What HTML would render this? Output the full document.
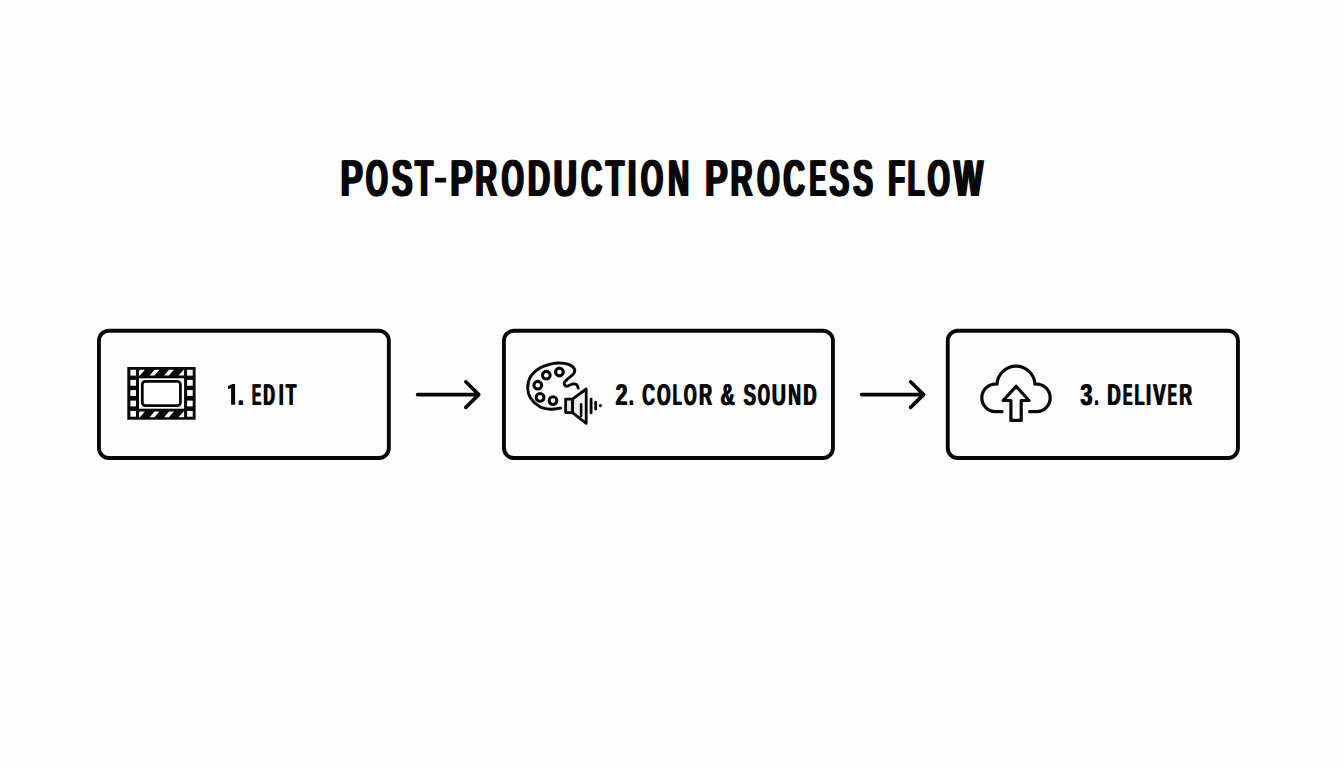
<!DOCTYPE html>
<html>
<head>
<meta charset="utf-8">
<style>
html,body{margin:0;padding:0;background:#fefefe;}
body{width:1344px;height:768px;overflow:hidden;position:relative;font-family:"Liberation Sans",sans-serif;}
svg{position:absolute;left:0;top:0;}
text{font-family:"Liberation Sans",sans-serif;font-weight:bold;text-rendering:geometricPrecision;}
</style>
</head>
<body>
<svg width="1344" height="768" viewBox="0 0 1344 768">

<g id="g0" fill="#070707"><text x="339.45" y="195.70" font-size="52.10" textLength="22.22" lengthAdjust="spacingAndGlyphs">P</text><text x="341.75" y="195.70" font-size="52.10" textLength="22.22" lengthAdjust="spacingAndGlyphs">P</text></g>
<g id="g1" fill="#070707"><text x="364.65" y="195.70" font-size="52.10" textLength="22.02" lengthAdjust="spacingAndGlyphs">O</text><text x="366.95" y="195.70" font-size="52.10" textLength="22.02" lengthAdjust="spacingAndGlyphs">O</text></g>
<g id="g2" fill="#070707"><text x="390.85" y="195.70" font-size="52.10" textLength="20.36" lengthAdjust="spacingAndGlyphs">S</text><text x="393.15" y="195.70" font-size="52.10" textLength="20.36" lengthAdjust="spacingAndGlyphs">S</text></g>
<g id="g3" fill="#070707"><text x="413.99" y="195.70" font-size="52.10" textLength="17.84" lengthAdjust="spacingAndGlyphs">T</text><text x="416.29" y="195.70" font-size="52.10" textLength="17.84" lengthAdjust="spacingAndGlyphs">T</text></g>
<rect id="g4" x="435.10" y="177.80" width="11.10" height="4.70" fill="#070707"/>
<g id="g5" fill="#070707"><text x="449.18" y="195.70" font-size="52.10" textLength="22.22" lengthAdjust="spacingAndGlyphs">P</text><text x="451.48" y="195.70" font-size="52.10" textLength="22.22" lengthAdjust="spacingAndGlyphs">P</text></g>
<g id="g6" fill="#070707"><text x="474.24" y="195.70" font-size="52.10" textLength="21.66" lengthAdjust="spacingAndGlyphs">R</text><text x="476.54" y="195.70" font-size="52.10" textLength="21.66" lengthAdjust="spacingAndGlyphs">R</text></g>
<g id="g7" fill="#070707"><text x="500.48" y="195.70" font-size="52.10" textLength="22.23" lengthAdjust="spacingAndGlyphs">O</text><text x="502.78" y="195.70" font-size="52.10" textLength="22.23" lengthAdjust="spacingAndGlyphs">O</text></g>
<g id="g8" fill="#070707"><text x="526.69" y="195.70" font-size="52.10" textLength="22.18" lengthAdjust="spacingAndGlyphs">D</text><text x="528.99" y="195.70" font-size="52.10" textLength="22.18" lengthAdjust="spacingAndGlyphs">D</text></g>
<g id="g9" fill="#070707"><text x="552.58" y="195.70" font-size="52.10" textLength="23.00" lengthAdjust="spacingAndGlyphs">U</text><text x="554.88" y="195.70" font-size="52.10" textLength="23.00" lengthAdjust="spacingAndGlyphs">U</text></g>
<g id="g10" fill="#070707"><text x="580.00" y="195.70" font-size="52.10" textLength="20.97" lengthAdjust="spacingAndGlyphs">C</text><text x="582.30" y="195.70" font-size="52.10" textLength="20.97" lengthAdjust="spacingAndGlyphs">C</text></g>
<g id="g11" fill="#070707"><text x="604.79" y="195.70" font-size="52.10" textLength="18.15" lengthAdjust="spacingAndGlyphs">T</text><text x="607.09" y="195.70" font-size="52.10" textLength="18.15" lengthAdjust="spacingAndGlyphs">T</text></g>
<g id="g12" fill="#070707"><text x="626.77" y="195.70" font-size="52.10" textLength="8.45" lengthAdjust="spacingAndGlyphs">I</text><text x="629.07" y="195.70" font-size="52.10" textLength="8.45" lengthAdjust="spacingAndGlyphs">I</text></g>
<g id="g13" fill="#070707"><text x="639.78" y="195.70" font-size="52.10" textLength="22.23" lengthAdjust="spacingAndGlyphs">O</text><text x="642.08" y="195.70" font-size="52.10" textLength="22.23" lengthAdjust="spacingAndGlyphs">O</text></g>
<g id="g14" fill="#070707"><text x="666.90" y="195.70" font-size="52.10" textLength="21.03" lengthAdjust="spacingAndGlyphs">N</text><text x="669.20" y="195.70" font-size="52.10" textLength="21.03" lengthAdjust="spacingAndGlyphs">N</text></g>
<g id="g15" fill="#070707"><text x="704.04" y="195.70" font-size="52.10" textLength="22.55" lengthAdjust="spacingAndGlyphs">P</text><text x="706.34" y="195.70" font-size="52.10" textLength="22.55" lengthAdjust="spacingAndGlyphs">P</text></g>
<g id="g16" fill="#070707"><text x="729.43" y="195.70" font-size="52.10" textLength="21.99" lengthAdjust="spacingAndGlyphs">R</text><text x="731.73" y="195.70" font-size="52.10" textLength="21.99" lengthAdjust="spacingAndGlyphs">R</text></g>
<g id="g17" fill="#070707"><text x="756.11" y="195.70" font-size="52.10" textLength="22.32" lengthAdjust="spacingAndGlyphs">O</text><text x="758.41" y="195.70" font-size="52.10" textLength="22.32" lengthAdjust="spacingAndGlyphs">O</text></g>
<g id="g18" fill="#070707"><text x="782.34" y="195.70" font-size="52.10" textLength="21.27" lengthAdjust="spacingAndGlyphs">C</text><text x="784.64" y="195.70" font-size="52.10" textLength="21.27" lengthAdjust="spacingAndGlyphs">C</text></g>
<g id="g19" fill="#070707"><text x="808.48" y="195.70" font-size="52.10" textLength="16.43" lengthAdjust="spacingAndGlyphs">E</text><text x="810.78" y="195.70" font-size="52.10" textLength="16.43" lengthAdjust="spacingAndGlyphs">E</text></g>
<g id="g20" fill="#070707"><text x="828.28" y="195.70" font-size="52.10" textLength="19.78" lengthAdjust="spacingAndGlyphs">S</text><text x="830.58" y="195.70" font-size="52.10" textLength="19.78" lengthAdjust="spacingAndGlyphs">S</text></g>
<g id="g21" fill="#070707"><text x="852.03" y="195.70" font-size="52.10" textLength="19.77" lengthAdjust="spacingAndGlyphs">S</text><text x="854.33" y="195.70" font-size="52.10" textLength="19.77" lengthAdjust="spacingAndGlyphs">S</text></g>
<g id="g22" fill="#070707"><text x="887.36" y="195.70" font-size="52.10" textLength="16.28" lengthAdjust="spacingAndGlyphs">F</text><text x="889.66" y="195.70" font-size="52.10" textLength="16.28" lengthAdjust="spacingAndGlyphs">F</text></g>
<g id="g23" fill="#070707"><text x="906.57" y="195.70" font-size="52.10" textLength="16.85" lengthAdjust="spacingAndGlyphs">L</text><text x="908.87" y="195.70" font-size="52.10" textLength="16.85" lengthAdjust="spacingAndGlyphs">L</text></g>
<g id="g24" fill="#070707"><text x="926.60" y="195.70" font-size="52.10" textLength="21.97" lengthAdjust="spacingAndGlyphs">O</text><text x="928.90" y="195.70" font-size="52.10" textLength="21.97" lengthAdjust="spacingAndGlyphs">O</text></g>
<g id="g25" fill="#070707"><text x="952.86" y="195.70" font-size="52.10" textLength="29.02" lengthAdjust="spacingAndGlyphs">W</text><text x="955.16" y="195.70" font-size="52.10" textLength="29.02" lengthAdjust="spacingAndGlyphs">W</text></g>
<polygon id="g26" points="232.40,384.00 235.10,384.00 235.10,404.75 231.10,404.75 231.10,388.20 228.00,389.00 228.00,386.10" fill="#070707"/>
<g id="g27" fill="#070707"><text x="237.27" y="404.75" font-size="30.20" textLength="5.93" lengthAdjust="spacingAndGlyphs">.</text><text x="238.42" y="404.75" font-size="30.20" textLength="5.93" lengthAdjust="spacingAndGlyphs">.</text></g>
<g id="g28" fill="#070707"><text x="251.45" y="404.75" font-size="30.20" textLength="9.25" lengthAdjust="spacingAndGlyphs">E</text><text x="252.60" y="404.75" font-size="30.20" textLength="9.25" lengthAdjust="spacingAndGlyphs">E</text></g>
<g id="g29" fill="#070707"><text x="262.84" y="404.75" font-size="30.20" textLength="11.49" lengthAdjust="spacingAndGlyphs">D</text><text x="263.99" y="404.75" font-size="30.20" textLength="11.49" lengthAdjust="spacingAndGlyphs">D</text></g>
<g id="g30" fill="#070707"><text x="278.21" y="404.75" font-size="30.20" textLength="4.97" lengthAdjust="spacingAndGlyphs">I</text><text x="279.36" y="404.75" font-size="30.20" textLength="4.97" lengthAdjust="spacingAndGlyphs">I</text></g>
<g id="g31" fill="#070707"><text x="285.17" y="404.75" font-size="30.20" textLength="10.66" lengthAdjust="spacingAndGlyphs">T</text><text x="286.32" y="404.75" font-size="30.20" textLength="10.66" lengthAdjust="spacingAndGlyphs">T</text></g>
<g id="g32" fill="#070707"><text x="614.92" y="404.75" font-size="30.20" textLength="12.02" lengthAdjust="spacingAndGlyphs">2</text><text x="616.07" y="404.75" font-size="30.20" textLength="12.02" lengthAdjust="spacingAndGlyphs">2</text></g>
<g id="g33" fill="#070707"><text x="628.56" y="404.75" font-size="30.20" textLength="4.42" lengthAdjust="spacingAndGlyphs">.</text><text x="629.71" y="404.75" font-size="30.20" textLength="4.42" lengthAdjust="spacingAndGlyphs">.</text></g>
<g id="g34" fill="#070707"><text x="641.75" y="404.75" font-size="30.20" textLength="12.49" lengthAdjust="spacingAndGlyphs">C</text><text x="642.90" y="404.75" font-size="30.20" textLength="12.49" lengthAdjust="spacingAndGlyphs">C</text></g>
<g id="g35" fill="#070707"><text x="656.51" y="404.75" font-size="30.20" textLength="13.34" lengthAdjust="spacingAndGlyphs">O</text><text x="657.66" y="404.75" font-size="30.20" textLength="13.34" lengthAdjust="spacingAndGlyphs">O</text></g>
<g id="g36" fill="#070707"><text x="672.28" y="404.75" font-size="30.20" textLength="8.74" lengthAdjust="spacingAndGlyphs">L</text><text x="673.43" y="404.75" font-size="30.20" textLength="8.74" lengthAdjust="spacingAndGlyphs">L</text></g>
<g id="g37" fill="#070707"><text x="683.28" y="404.75" font-size="30.20" textLength="12.70" lengthAdjust="spacingAndGlyphs">O</text><text x="684.43" y="404.75" font-size="30.20" textLength="12.70" lengthAdjust="spacingAndGlyphs">O</text></g>
<g id="g38" fill="#070707"><text x="698.59" y="404.75" font-size="30.20" textLength="12.90" lengthAdjust="spacingAndGlyphs">R</text><text x="699.74" y="404.75" font-size="30.20" textLength="12.90" lengthAdjust="spacingAndGlyphs">R</text></g>
<g id="g39" fill="#070707"><text x="720.07" y="404.75" font-size="30.20" textLength="14.14" lengthAdjust="spacingAndGlyphs">&amp;</text><text x="721.22" y="404.75" font-size="30.20" textLength="14.14" lengthAdjust="spacingAndGlyphs">&amp;</text></g>
<g id="g40" fill="#070707"><text x="743.07" y="404.75" font-size="30.20" textLength="12.33" lengthAdjust="spacingAndGlyphs">S</text><text x="744.22" y="404.75" font-size="30.20" textLength="12.33" lengthAdjust="spacingAndGlyphs">S</text></g>
<g id="g41" fill="#070707"><text x="757.25" y="404.75" font-size="30.20" textLength="11.92" lengthAdjust="spacingAndGlyphs">O</text><text x="758.40" y="404.75" font-size="30.20" textLength="11.92" lengthAdjust="spacingAndGlyphs">O</text></g>
<g id="g42" fill="#070707"><text x="771.17" y="404.75" font-size="30.20" textLength="14.19" lengthAdjust="spacingAndGlyphs">U</text><text x="772.32" y="404.75" font-size="30.20" textLength="14.19" lengthAdjust="spacingAndGlyphs">U</text></g>
<g id="g43" fill="#070707"><text x="787.67" y="404.75" font-size="30.20" textLength="12.73" lengthAdjust="spacingAndGlyphs">N</text><text x="788.82" y="404.75" font-size="30.20" textLength="12.73" lengthAdjust="spacingAndGlyphs">N</text></g>
<g id="g44" fill="#070707"><text x="802.79" y="404.75" font-size="30.20" textLength="13.23" lengthAdjust="spacingAndGlyphs">D</text><text x="803.94" y="404.75" font-size="30.20" textLength="13.23" lengthAdjust="spacingAndGlyphs">D</text></g>
<g id="g45" fill="#070707"><text x="1079.73" y="404.75" font-size="30.20" textLength="12.02" lengthAdjust="spacingAndGlyphs">3</text><text x="1080.88" y="404.75" font-size="30.20" textLength="12.02" lengthAdjust="spacingAndGlyphs">3</text></g>
<g id="g46" fill="#070707"><text x="1093.95" y="404.75" font-size="30.20" textLength="4.07" lengthAdjust="spacingAndGlyphs">.</text><text x="1095.10" y="404.75" font-size="30.20" textLength="4.07" lengthAdjust="spacingAndGlyphs">.</text></g>
<g id="g47" fill="#070707"><text x="1106.77" y="404.75" font-size="30.20" textLength="13.30" lengthAdjust="spacingAndGlyphs">D</text><text x="1107.92" y="404.75" font-size="30.20" textLength="13.30" lengthAdjust="spacingAndGlyphs">D</text></g>
<g id="g48" fill="#070707"><text x="1122.41" y="404.75" font-size="30.20" textLength="9.48" lengthAdjust="spacingAndGlyphs">E</text><text x="1123.56" y="404.75" font-size="30.20" textLength="9.48" lengthAdjust="spacingAndGlyphs">E</text></g>
<g id="g49" fill="#070707"><text x="1133.97" y="404.75" font-size="30.20" textLength="10.07" lengthAdjust="spacingAndGlyphs">L</text><text x="1135.12" y="404.75" font-size="30.20" textLength="10.07" lengthAdjust="spacingAndGlyphs">L</text></g>
<g id="g50" fill="#070707"><text x="1145.59" y="404.75" font-size="30.20" textLength="4.89" lengthAdjust="spacingAndGlyphs">I</text><text x="1146.74" y="404.75" font-size="30.20" textLength="4.89" lengthAdjust="spacingAndGlyphs">I</text></g>
<g id="g51" fill="#070707"><text x="1152.55" y="404.75" font-size="30.20" textLength="12.53" lengthAdjust="spacingAndGlyphs">V</text><text x="1153.70" y="404.75" font-size="30.20" textLength="12.53" lengthAdjust="spacingAndGlyphs">V</text></g>
<g id="g52" fill="#070707"><text x="1167.18" y="404.75" font-size="30.20" textLength="9.22" lengthAdjust="spacingAndGlyphs">E</text><text x="1168.33" y="404.75" font-size="30.20" textLength="9.22" lengthAdjust="spacingAndGlyphs">E</text></g>
<g id="g53" fill="#070707"><text x="1178.81" y="404.75" font-size="30.20" textLength="12.58" lengthAdjust="spacingAndGlyphs">R</text><text x="1179.96" y="404.75" font-size="30.20" textLength="12.58" lengthAdjust="spacingAndGlyphs">R</text></g>
<g fill="none" stroke="#070707" stroke-width="3.90">
<rect x="98.95" y="330.75" width="289.90" height="127.30" rx="10.00"/>
<rect x="503.95" y="330.75" width="329.00" height="127.30" rx="10.00"/>
<rect x="947.75" y="330.75" width="290.20" height="127.30" rx="10.00"/>
</g>
<g fill="none" stroke="#070707" stroke-width="3.60" stroke-linecap="round" stroke-linejoin="round">
<path d="M417.50 394.60 H478.80 M465.80 381.80 L478.80 394.60 L465.80 407.40"/>
<path d="M861.50 394.60 H923.60 M910.60 381.80 L923.60 394.60 L910.60 407.40"/>
</g>
<defs><clipPath id="fclip"><rect x="139.00" y="367.00" width="45.10" height="52.70"/></clipPath></defs>
<rect x="127.30" y="367.00" width="68.30" height="52.70" fill="#070707"/>
<rect x="130.40" y="369.80" width="5.60" height="5.80" fill="#fff"/>
<rect x="187.10" y="369.80" width="5.60" height="5.80" fill="#fff"/>
<rect x="130.40" y="379.90" width="5.60" height="5.80" fill="#fff"/>
<rect x="187.10" y="379.90" width="5.60" height="5.80" fill="#fff"/>
<rect x="130.40" y="390.10" width="5.60" height="5.80" fill="#fff"/>
<rect x="187.10" y="390.10" width="5.60" height="5.80" fill="#fff"/>
<rect x="130.40" y="400.60" width="5.60" height="5.80" fill="#fff"/>
<rect x="187.10" y="400.60" width="5.60" height="5.80" fill="#fff"/>
<rect x="130.40" y="410.90" width="5.60" height="5.80" fill="#fff"/>
<rect x="187.10" y="410.90" width="5.60" height="5.80" fill="#fff"/>
<rect x="139.00" y="378.30" width="45.10" height="30.40" fill="#fff"/>
<rect x="142.30" y="381.30" width="38.10" height="24.30" rx="3.00" fill="none" stroke="#070707" stroke-width="2.80"/>
<g clip-path="url(#fclip)" fill="#fff">
<polygon points="140.10,369.80 144.90,369.80 139.90,375.50 135.10,375.50"/>
<polygon points="154.60,369.80 159.40,369.80 154.40,375.50 149.60,375.50"/>
<polygon points="169.10,369.80 173.90,369.80 168.90,375.50 164.10,375.50"/>
<polygon points="183.60,369.80 188.40,369.80 183.40,375.50 178.60,375.50"/>
<polygon points="140.10,411.60 144.90,411.60 139.90,417.20 135.10,417.20"/>
<polygon points="154.60,411.60 159.40,411.60 154.40,417.20 149.60,417.20"/>
<polygon points="169.10,411.60 173.90,411.60 168.90,417.20 164.10,417.20"/>
<polygon points="183.60,411.60 188.40,411.60 183.40,417.20 178.60,417.20"/>
</g>
<g fill="none" stroke="#070707" stroke-linecap="round" stroke-linejoin="round">
<path d="M560.70 408.10 C559.02 408.28 554.07 409.43 550.60 409.20 C547.13 408.97 543.23 408.55 539.90 406.70 C536.57 404.85 532.63 401.20 530.60 398.10 C528.57 395.00 527.70 391.68 527.70 388.10 C527.70 384.52 528.57 379.95 530.60 376.60 C532.63 373.25 536.57 370.08 539.90 368.00 C543.23 365.92 547.38 364.93 550.60 364.10 C553.82 363.27 556.22 362.95 559.20 363.00 C562.18 363.05 565.98 363.45 568.50 364.40 C571.02 365.35 573.45 367.13 574.30 368.70 C575.15 370.27 574.68 372.12 573.60 373.80 C572.52 375.48 569.37 377.25 567.80 378.80 C566.23 380.35 564.43 381.85 564.20 383.10 C563.97 384.35 565.08 386.13 566.40 386.30 C567.72 386.47 570.43 384.40 572.10 384.10 C573.77 383.80 575.38 383.83 576.40 384.50 C577.42 385.17 577.90 387.50 578.20 388.10" stroke-width="2.90"/>
<circle cx="559.40" cy="372.00" r="3.85" stroke-width="3.10"/>
<circle cx="546.30" cy="375.20" r="3.85" stroke-width="3.10"/>
<circle cx="537.75" cy="385.20" r="3.85" stroke-width="3.10"/>
<circle cx="540.10" cy="397.40" r="3.85" stroke-width="3.10"/>
<circle cx="553.00" cy="400.60" r="3.85" stroke-width="3.10"/>
</g>
<defs><linearGradient id="cg" x1="0" x2="1" y1="0" y2="0"><stop offset="0" stop-color="#e2e2e2"/><stop offset="1" stop-color="#fbfbfb"/></linearGradient></defs>
<g stroke="#070707" stroke-width="2.80" stroke-linejoin="round" stroke-linecap="round">
<polygon points="572.40,399.10 586.20,389.00 586.20,423.40 572.40,412.60" fill="url(#cg)"/>
<rect x="565.60" y="399.10" width="6.80" height="13.50" fill="#e4e4e4"/>
<line x1="581.10" y1="404.30" x2="581.10" y2="416.00" stroke-width="2.60"/>
<line x1="591.10" y1="399.10" x2="591.10" y2="412.90" stroke-width="2.80"/>
<line x1="595.70" y1="402.10" x2="595.70" y2="409.00" stroke-width="2.80"/>
<circle cx="600.40" cy="405.60" r="1.60" fill="#070707" stroke="none"/>
</g>
<g fill="none" stroke="#070707" stroke-width="3.20" stroke-linecap="round" stroke-linejoin="round">
<path d="M1002.10 411.60 H995.60 A13.80 13.80 0 1 1 997.03 384.07 A19.00 19.00 0 0 1 1034.97 384.07 A13.80 13.80 0 1 1 1036.40 411.60 H1029.60"/>
<polygon points="1016.10,386.30 1029.00,400.50 1021.20,400.50 1021.20,420.40 1010.90,420.40 1010.90,400.50 1003.20,400.50"/>
</g>
</svg>
</body>
</html>
